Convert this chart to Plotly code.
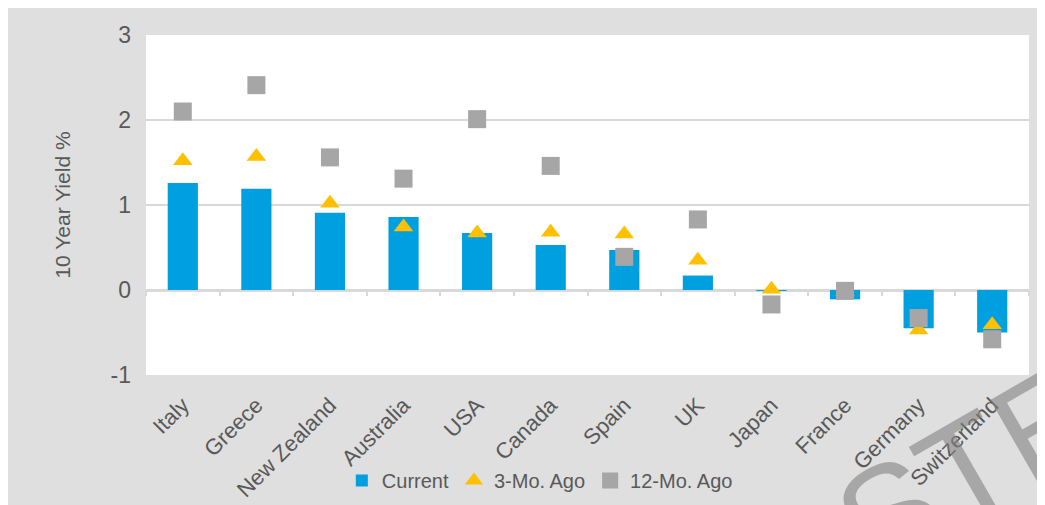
import plotly.graph_objects as go

countries = ["Italy", "Greece", "New Zealand", "Australia", "USA", "Canada",
             "Spain", "UK", "Japan", "France", "Germany", "Switzerland"]
current = [1.26, 1.19, 0.91, 0.86, 0.67, 0.53, 0.47, 0.17, -0.01, -0.11, -0.45, -0.50]
three_mo = [1.52, 1.57, 1.02, 0.74, 0.67, 0.68, 0.66, 0.35, 0.01, -0.02, -0.47, -0.41]
twelve_mo = [2.10, 2.41, 1.56, 1.31, 2.01, 1.46, 0.39, 0.83, -0.17, -0.01, -0.33, -0.58]
y_tickvals = [-1, 0, 1, 2, 3]
y_ticktext = ["-1", "0", "1", "2", "3"]

FONT = "Liberation Sans, Arial, sans-serif"
TXT = "#595959"
GRID = "#D9D9D9"

fig = go.Figure()
fig.add_trace(go.Bar(x=countries, y=current, name="Current", width=0.41,
                     marker=dict(color="#009FDF", line=dict(width=0))))
fig.add_trace(go.Scatter(x=countries, y=three_mo, name="3-Mo. Ago", mode="markers",
                         marker=dict(symbol="triangle-up", size=17, color="#FFC000")))
fig.add_trace(go.Scatter(x=countries, y=twelve_mo, name="12-Mo. Ago", mode="markers",
                         marker=dict(symbol="square", size=18, color="#A6A6A6")))
# hidden trace to carry the boundary tick axis drawn at the zero line
fig.add_trace(go.Scatter(x=countries, y=[None] * len(countries), xaxis="x2",
                         mode="markers", showlegend=False, hoverinfo="skip"))

fig.update_layout(
    width=1037, height=497,
    margin=dict(l=138, r=16, t=27, b=130, autoexpand=False),
    paper_bgcolor="#DEDFDE", plot_bgcolor="white",
    font=dict(family=FONT, color=TXT, size=18),
    showlegend=True,
    legend=dict(orientation="h", x=0.446, xanchor="center", y=-0.31, yanchor="middle",
                font=dict(size=20, color=TXT), bgcolor="rgba(0,0,0,0)",
                itemwidth=30, tracegroupgap=0),
    xaxis=dict(type="category", categoryorder="array", categoryarray=countries,
               range=[-0.5, 11.5], showgrid=False, showline=False, ticks="",
               tickangle=-45, tickfont=dict(size=22, color=TXT), zeroline=False,
               ticklabelstandoff=12, automargin=False),
    xaxis2=dict(type="category", categoryorder="array", categoryarray=countries,
                range=[-0.5, 11.5], overlaying="x", anchor="free", position=0.25,
                showticklabels=False, ticks="outside", tickson="boundaries",
                ticklen=5, tickcolor=GRID, tickwidth=2, showgrid=False,
                showline=False, zeroline=False, automargin=False),
    yaxis=dict(range=[-1, 3], tickmode="array", tickvals=y_tickvals, ticktext=y_ticktext,
               showgrid=True, gridcolor=GRID,
               gridwidth=1.5, zeroline=True, zerolinecolor=GRID, zerolinewidth=2.5,
               showline=False, ticks="", tickfont=dict(size=23, color=TXT),
               ticklabelstandoff=14, automargin=False,
               title=dict(text="10 Year Yield %", font=dict(size=21, color=TXT), standoff=34)),
    annotations=[
        dict(text="STE", xref="paper", yref="paper", x=0.93, y=-0.275, showarrow=False,
             textangle=-30, font=dict(size=140, color="rgba(130,130,130,0.6)",
                                       family="Liberation Sans, Arial"),
             xanchor="center", yanchor="middle"),
    ],
)

fig.write_html("out.html")
